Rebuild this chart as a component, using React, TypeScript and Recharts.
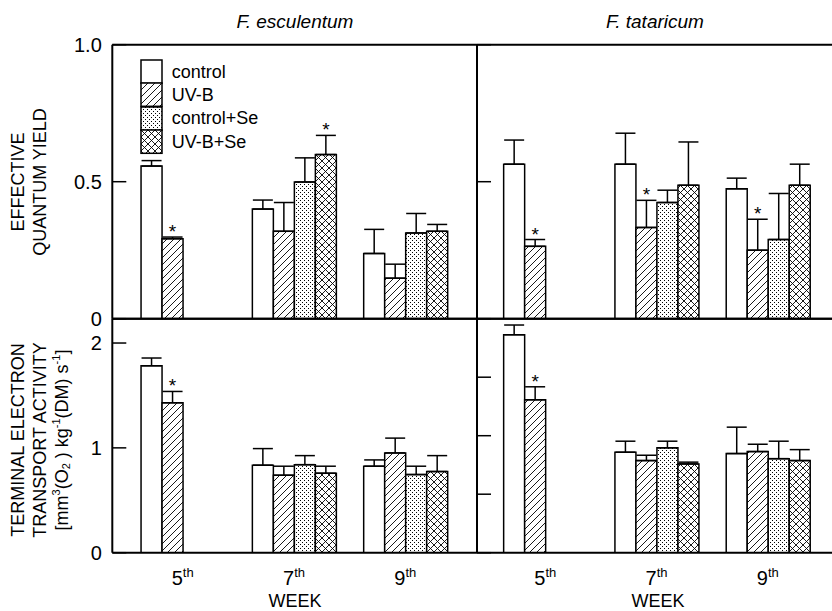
import React from 'react';
import { BarChart, Bar, XAxis, YAxis, ErrorBar, LabelList, Legend } from 'recharts';

const weeks = ['5', '7', '9'];
const seriesNames = ['control', 'UV-B', 'control+Se', 'UV-B+Se'];
const fills = ['#fff', 'url(#hatch)', 'url(#dots)', 'url(#cross)'];

// rows = series (control, UV-B, control+Se, UV-B+Se), cols = weeks 5/7/9
const escYieldMean = [
  [0.557, 0.4, 0.238],
  [0.292, 0.319, 0.148],
  [null, 0.499, 0.313],
  [null, 0.599, 0.319],
];
const escYieldErr = [
  [0.02, 0.033, 0.088],
  [0.006, 0.105, 0.051],
  [null, 0.088, 0.071],
  [null, 0.07, 0.025],
];
const escYieldSig = [
  [false, false, false],
  [true, false, false],
  [false, false, false],
  [false, true, false],
];

const tatYieldMean = [
  [0.564, 0.564, 0.474],
  [0.264, 0.333, 0.25],
  [null, 0.424, 0.289],
  [null, 0.487, 0.487],
];
const tatYieldErr = [
  [0.088, 0.113, 0.039],
  [0.025, 0.099, 0.113],
  [null, 0.045, 0.168],
  [null, 0.158, 0.077],
];
const tatYieldSig = [
  [false, false, false],
  [true, true, true],
  [false, false, false],
  [false, false, false],
];

const escEtsMean = [
  [1.783, 0.835, 0.825],
  [1.43, 0.739, 0.952],
  [null, 0.84, 0.745],
  [null, 0.758, 0.774],
];
const escEtsErr = [
  [0.074, 0.158, 0.06],
  [0.108, 0.086, 0.141],
  [null, 0.086, 0.08],
  [null, 0.067, 0.152],
];
const tatEtsMean = [
  [1.863, 0.859, 0.847],
  [1.307, 0.787, 0.864],
  [null, 0.896, 0.804],
  [null, 0.759, 0.787],
];
const tatEtsErr = [
  [0.083, 0.094, 0.226],
  [0.111, 0.046, 0.063],
  [null, 0.057, 0.149],
  [null, 0.015, 0.094],
];
const etsSig = [
  [false, false, false],
  [true, false, false],
  [false, false, false],
  [false, false, false],
];

const yieldTicks = [0, 0.5, 1];
const yieldTickLabels = ['0', '0.5', '1.0'];
const escEtsTicks = [0, 1, 2];
const escEtsTickLabels = ['0', '1', '2'];
const tatEtsTicks = [0, 0.5, 1, 1.5];

const FONT = '"Liberation Sans", Arial, sans-serif';
const frame = { stroke: '#000', strokeWidth: 2 };

function toRows(mean: (number | null)[][], err: (number | null)[][]) {
  return weeks.map((w, j) => {
    const r: any = { week: w };
    mean.forEach((s, i) => {
      r['v' + i] = s[j];
      r['e' + i] = s[j] == null ? null : [0, err[i][j]];
    });
    return r;
  });
}

const YTick = (props: any) => {
  const { x, y, payload, ticks, labels } = props;
  const idx = ticks.indexOf(payload.value);
  return (
    <g>
      <line x1={x} x2={x + 14} y1={y} y2={y} stroke="#000" strokeWidth={1.5} />
      {labels && (
        <text x={x - 10.5} y={y} textAnchor="end" dominantBaseline="central" fontSize={20} fontFamily={FONT} fill="#000">
          {labels[idx]}
        </text>
      )}
    </g>
  );
};

const WeekTick = (props: any) => {
  const { x, y, payload } = props;
  return (
    <text x={x} y={y + 32} textAnchor="middle" fontSize={20} fontFamily={FONT} fill="#000">
      <tspan>{payload.value}</tspan>
      <tspan dy={-8} fontSize={13}>th</tspan>
    </text>
  );
};

// asterisk above the error bar cap; value is the week of the bar
const Star = (props: any) => {
  const { value, mean, err, sig } = props;
  const j = weeks.indexOf(String(value));
  const vb = props.viewBox && props.viewBox.height != null ? props.viewBox : props;
  const { x, y, width, height } = vb;
  if (j < 0 || !sig[j] || mean[j] == null || !height) return null;
  const capY = y - (err[j] * height) / mean[j];
  return (
    <text x={x + width / 2} y={capY + 1} textAnchor="middle" fontSize={19} fontFamily={FONT} fill="#000">
      *
    </text>
  );
};

const LegendBox = () => (
  <div style={{ fontFamily: FONT, fontSize: 18, lineHeight: 1, color: '#000' }}>
    {seriesNames.map((n, i) => (
      <div key={n} style={{ display: 'flex', alignItems: 'center', height: 23.3 }}>
        <svg width={21} height={23.3} style={{ overflow: 'visible', display: 'block' }}>
          <rect x={0} y={0} width={21} height={23.3} fill={fills[i]} stroke="#000" strokeWidth={1.5} />
        </svg>
        <span style={{ marginLeft: 10, whiteSpace: 'nowrap' }}>{n}</span>
      </div>
    ))}
  </div>
);

type PanelProps = {
  mean: (number | null)[][];
  err: (number | null)[][];
  sig: boolean[][];
  domain: [number, number];
  ticks: number[];
  tickLabels?: string[];
  box: { left: number; top: number; width: number; height: number };
  plot: { left: number; top: number; right: number; bottom: number };
  padding: { left: number; right: number };
  xLabels?: boolean;
  legend?: boolean;
};

const Panel = ({ mean, err, sig, domain, ticks, tickLabels, box, plot, padding, xLabels, legend }: PanelProps) => {
  const rows = toRows(mean, err);
  // axes take 1px each, so the margins stop 1px short of the plot frame
  const margin = {
    left: plot.left - box.left - 1,
    top: plot.top - box.top - 1,
    right: box.left + box.width - plot.right - 1,
    bottom: box.top + box.height - plot.bottom - 1,
  };
  return (
    <div style={{ position: 'absolute', left: box.left, top: box.top }}>
      <BarChart width={box.width} height={box.height} data={rows} margin={margin} barGap={0} barSize={21}>
        <XAxis
          dataKey="week"
          padding={padding}
          height={1}
          axisLine={frame}
          tickLine={false}
          tickSize={0}
          tickMargin={0}
          interval={0}
          tick={xLabels ? <WeekTick /> : false}
        />
        <XAxis dataKey="week" xAxisId="top" orientation="top" padding={padding} height={1} axisLine={frame} tickLine={false} tick={false} />
        <YAxis
          type="number"
          domain={domain}
          ticks={ticks}
          interval={0}
          width={1}
          allowDataOverflow
          axisLine={frame}
          tickLine={false}
          tickSize={0}
          tickMargin={0}
          tick={(p: any) => <YTick {...p} ticks={ticks} labels={tickLabels} />}
        />
        <YAxis yAxisId="right" orientation="right" type="number" domain={domain} width={1} axisLine={frame} tickLine={false} tick={false} />
        {legend && (
          <Legend
            layout="vertical"
            align="center"
            verticalAlign="middle"
            wrapperStyle={{ left: 140.7, top: 60, width: 'auto', height: 'auto' }}
            content={() => <LegendBox />}
          />
        )}
        {seriesNames.map((name, i) => (
          <Bar
            key={name}
            dataKey={'v' + i}
            name={name}
            fill={fills[i]}
            stroke="#000"
            strokeWidth={1.5}
            barSize={21}
            isAnimationActive={false}
          >
            <ErrorBar dataKey={'e' + i} width={10} stroke="#000" strokeWidth={1.5} direction="y" />
            <LabelList dataKey="week" content={(p: any) => <Star {...p} mean={mean[i]} err={err[i]} sig={sig[i]} />} />
          </Bar>
        ))}
      </BarChart>
    </div>
  );
};

export default function App() {
  return (
    <div
      style={{
        position: 'fixed',
        left: 0,
        top: 0,
        width: 832,
        height: 611,
        overflow: 'hidden',
        background: '#fff',
        fontFamily: FONT,
      }}
    >
      <svg width={832} height={611} style={{ position: 'absolute', left: 0, top: 0 }}>
        <defs>
          <pattern id="hatch" patternUnits="userSpaceOnUse" width={7} height={7}>
            <rect width={7} height={7} fill="#fff" />
            <path d="M-1,1 l2,-2 M0,7 l7,-7 M6,8 l2,-2" stroke="#000" strokeWidth={0.9} />
          </pattern>
          <pattern id="dots" patternUnits="userSpaceOnUse" width={4} height={4}>
            <rect width={4} height={4} fill="#fff" />
            <rect x={0} y={0} width={1} height={1} fill="#000" />
            <rect x={2} y={2} width={1} height={1} fill="#000" />
          </pattern>
          <pattern id="cross" patternUnits="userSpaceOnUse" width={7} height={7}>
            <rect width={7} height={7} fill="#fff" />
            <path
              d="M0,0 L7,7 M7,0 L0,7 M-1,1 l2,-2 M6,8 l2,-2 M-1,6 l2,2 M6,-1 l2,2"
              stroke="#000"
              strokeWidth={0.9}
            />
          </pattern>
        </defs>
        <g fontFamily={FONT} fill="#000">
          <text x={295} y={28} textAnchor="middle" fontSize={19} fontStyle="italic">F. esculentum</text>
          <text x={655} y={28} textAnchor="middle" fontSize={19} fontStyle="italic">F. tataricum</text>
          <text transform="translate(18,182) rotate(-90)" textAnchor="middle" dominantBaseline="central" fontSize={18}>EFFECTIVE</text>
          <text transform="translate(40,182) rotate(-90)" textAnchor="middle" dominantBaseline="central" fontSize={18}>QUANTUM YIELD</text>
          <text transform="translate(18,440) rotate(-90)" textAnchor="middle" dominantBaseline="central" fontSize={18}>TERMINAL ELECTRON</text>
          <text transform="translate(40,440) rotate(-90)" textAnchor="middle" dominantBaseline="central" fontSize={18}>TRANSPORT ACTIVITY</text>
          <text transform="translate(62,440) rotate(-90)" textAnchor="middle" dominantBaseline="central" fontSize={18}>
            [mm<tspan dy={-6} fontSize={11}>3</tspan>
            <tspan dy={6}>(O</tspan>
            <tspan dy={4} fontSize={11}>2</tspan>
            <tspan dy={-4}> ) kg</tspan>
            <tspan dy={-6} fontSize={11}>-1</tspan>
            <tspan dy={6}>(DM) s</tspan>
            <tspan dy={-6} fontSize={11}>-1</tspan>
            <tspan dy={6}>]</tspan>
          </text>
          <text x={295} y={607} textAnchor="middle" fontSize={18}>WEEK</text>
          <text x={658} y={607} textAnchor="middle" fontSize={18}>WEEK</text>
        </g>
      </svg>

      <Panel
        mean={escYieldMean}
        err={escYieldErr}
        sig={escYieldSig}
        domain={[0, 1]}
        ticks={yieldTicks}
        tickLabels={yieldTickLabels}
        box={{ left: 0, top: 0, width: 480, height: 330 }}
        plot={{ left: 112.3, top: 44.7, right: 477, bottom: 318.7 }}
        padding={{ left: 14.75, right: 16 }}
        legend
      />
      <Panel
        mean={tatYieldMean}
        err={tatYieldErr}
        sig={tatYieldSig}
        domain={[0, 1]}
        ticks={yieldTicks}
        box={{ left: 460, top: 0, width: 384, height: 330 }}
        plot={{ left: 477, top: 44.7, right: 839.5, bottom: 318.7 }}
        padding={{ left: 12.65, right: 16 }}
      />
      <Panel
        mean={escEtsMean}
        err={escEtsErr}
        sig={etsSig}
        domain={[0, 2.232]}
        ticks={escEtsTicks}
        tickLabels={escEtsTickLabels}
        box={{ left: 0, top: 300, width: 480, height: 311 }}
        plot={{ left: 112.3, top: 318.7, right: 477, bottom: 552.7 }}
        padding={{ left: 14.75, right: 16 }}
        xLabels
      />
      <Panel
        mean={tatEtsMean}
        err={tatEtsErr}
        sig={etsSig}
        domain={[0, 2]}
        ticks={tatEtsTicks}
        box={{ left: 460, top: 300, width: 384, height: 311 }}
        plot={{ left: 477, top: 318.7, right: 839.5, bottom: 552.7 }}
        padding={{ left: 12.65, right: 16 }}
        xLabels
      />
    </div>
  );
}
